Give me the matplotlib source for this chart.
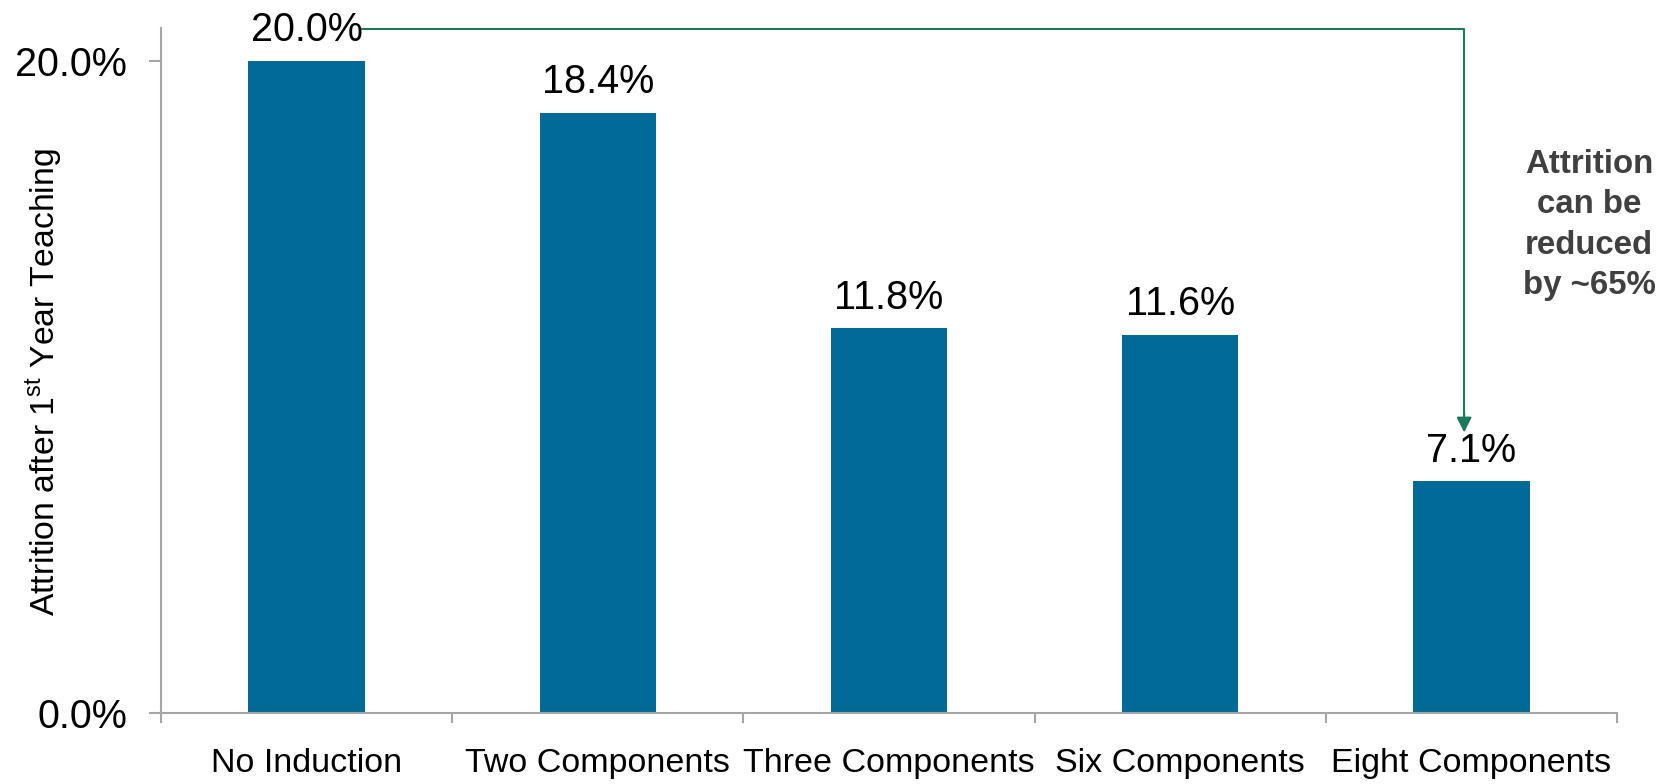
import numpy as np
import matplotlib
matplotlib.use("Agg")
import matplotlib.pyplot as plt

categories = ["No Induction", "Two Components", "Three Components", "Six Components", "Eight Components"]
attrition = [20.0, 18.4, 11.8, 11.6, 7.1]
ytick_vals = [0, 20]
ytick_labels = ["0.0%", "20.0%"]
callout = "Attrition\ncan be\nreduced\nby ~65%"

plt.rcParams['font.family'] = ['Liberation Sans', 'DejaVu Sans']
plt.rcParams['mathtext.fontset'] = 'custom'
plt.rcParams['mathtext.rm'] = 'Liberation Sans'

bar_color = '#026a97'
axis_color = '#a6a6a6'
arrow_color = '#1b7a5c'

fig = plt.figure(figsize=(16.66, 7.84), dpi=100)
ax = fig.add_axes([0.0966, 0.0906, 0.8740, 0.8737])

x = np.arange(len(categories))
ax.bar(x, attrition, width=0.4, color=bar_color, zorder=2)

ax.set_xlim(-0.5, len(categories) - 0.5)
ax.set_ylim(0, 21)

# value labels
for xi, v in zip(x, attrition):
    ax.annotate(f"{v:.1f}%", (xi, v), xytext=(0, 14), textcoords='offset points',
                ha='center', va='baseline', fontsize=28.5)

# axes styling
for s in ['top', 'right']:
    ax.spines[s].set_visible(False)
for s in ['left', 'bottom']:
    ax.spines[s].set_color(axis_color)
    ax.spines[s].set_linewidth(1.5)

ax.set_yticks(ytick_vals)
ax.set_yticklabels(ytick_labels, fontsize=28.5)
ax.tick_params(axis='y', length=8.5, width=1.5, color=axis_color, pad=16)

ax.set_xticks(x)
ax.set_xticklabels(categories, fontsize=24.5)
ax.tick_params(axis='x', which='major', length=0, pad=25)
ax.set_xticks(np.arange(len(categories) + 1) - 0.5, minor=True)
ax.tick_params(axis='x', which='minor', length=7, width=1.5, color=axis_color)

fig.text(44 / 1666, 1 - 382 / 784, "Attrition after 1$^{\\mathrm{st}}$ Year Teaching",
         rotation=90, ha='center', va='center', fontsize=24.3)

# callout arrow from first bar label to last bar
y_line = ax.get_ylim()[1] - 0.02
x_start = x[0] + 0.19
x_end = x[-1] - 0.025
y_tip = attrition[-1] + 1.5
ax.plot([x_start, x_end, x_end], [y_line, y_line, y_tip + 0.3], color=arrow_color,
        lw=1.5, clip_on=False, zorder=3)
ax.annotate("", xy=(x_end, y_tip), xytext=(x_end, y_tip + 0.6),
            arrowprops=dict(arrowstyle='-|>,head_length=0.9,head_width=0.45',
                            color=arrow_color, lw=1.5, shrinkA=0, shrinkB=0),
            annotation_clip=False)

fig.text(1589 / 1666, 1 - 225 / 784, callout, ha='center', va='center',
         fontsize=23.8, fontweight='bold', color='#404040', linespacing=1.4)

fig.savefig("out.png", dpi=100)
